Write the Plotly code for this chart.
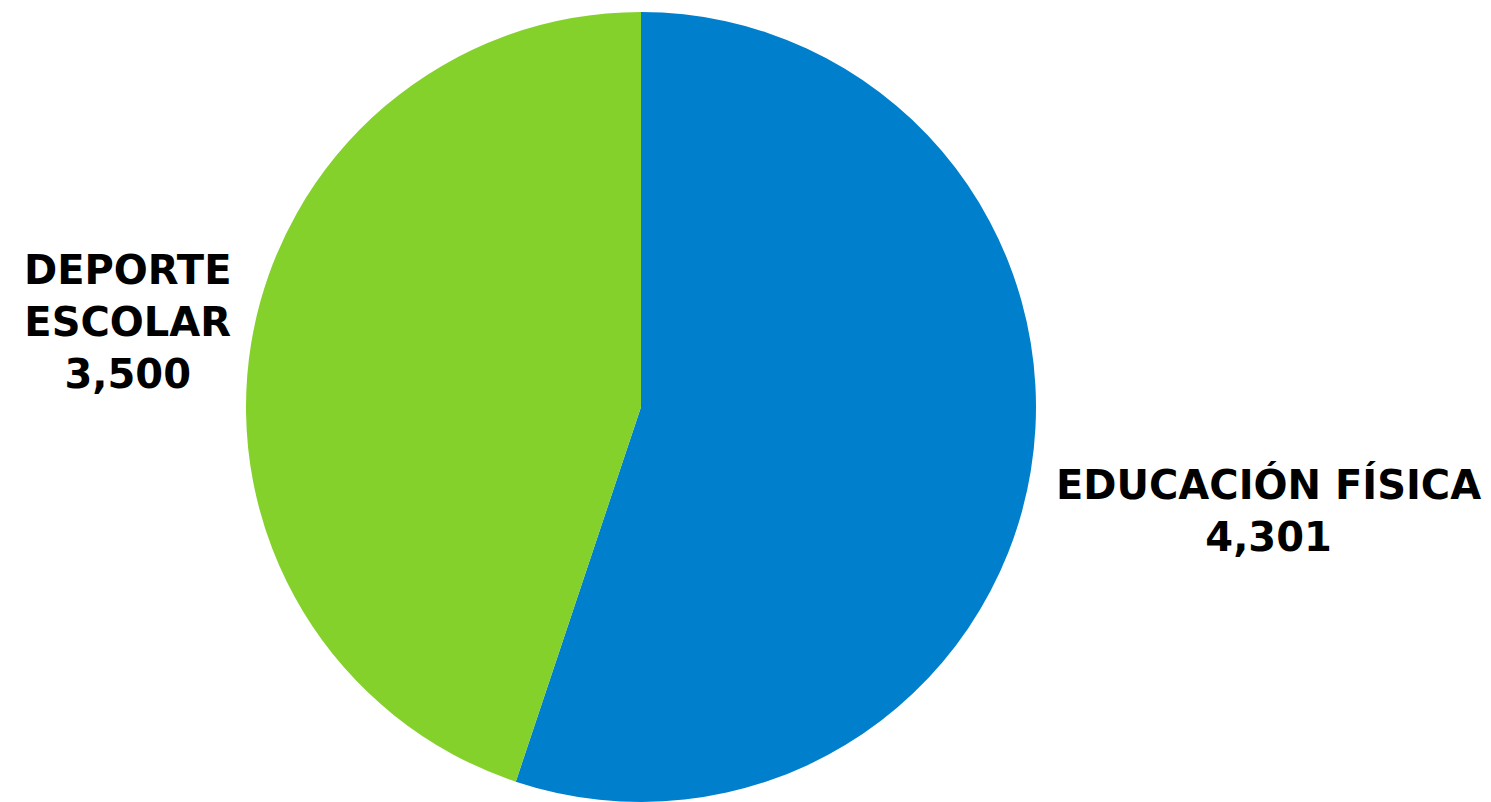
import plotly.graph_objects as go

categories = ["EDUCACIÓN FÍSICA", "DEPORTE ESCOLAR"]
values = [4301, 3500]
colors = ["#0080CC", "#84D12B"]
label_lines = [["EDUCACIÓN FÍSICA"], ["DEPORTE", "ESCOLAR"]]

W, H = 1491, 802
OFF = 8  # page body margin

fig = go.Figure(go.Pie(
    labels=categories,
    values=values,
    marker=dict(colors=colors, line=dict(width=0)),
    sort=False,
    direction="clockwise",
    rotation=0,
    textinfo="none",
    hoverinfo="label+value",
    domain=dict(x=[(246 - OFF) / W, (1036 - OFF) / W],
                y=[(H - (802 - OFF)) / H, (H - (12 - OFF)) / H]),
    showlegend=False,
))

positions = [((1268 - OFF) / W, 1 - (510 - OFF) / H), ((127 - OFF) / W, 1 - (322 - OFF) / H)]
for lines, v, (px, py) in zip(label_lines, values, positions):
    txt = "<br>".join(lines + [f"{v:,}"])
    fig.add_annotation(
        x=px, y=py, xref="paper", yref="paper",
        text=txt, showarrow=False, xanchor="center", yanchor="middle",
        align="center",
        font=dict(family="DejaVu Sans", size=40, color="#000000", weight="bold"),
    )

fig.update_layout(
    width=W, height=H,
    margin=dict(l=0, r=0, t=0, b=0),
    paper_bgcolor="white",
    plot_bgcolor="white",
)

fig.write_html("out.html")
